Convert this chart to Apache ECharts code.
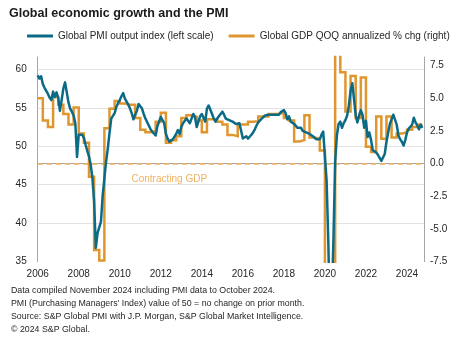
<!DOCTYPE html>
<html>
<head>
<meta charset="utf-8">
<script src="https://cdn.jsdelivr.net/npm/echarts@6/dist/echarts.min.js"></script>
<style>
  html, body { margin: 0; padding: 0; background: #ffffff; }
  #chart { width: 459px; height: 343px; }
</style>
</head>
<body>
<div id="chart"></div>
<script>
// Global PMI output index, monthly from January 2006
const pmiStartYear = 2006;
const pmiOutput = [
  59.2, 58.8, 59.1, 58.1, 57.6, 57.2, 56.8, 56.3, 56.0, 57.1, 56.4, 57.0, // 2006
  56.3, 54.6, 56.0, 57.5, 58.3, 57.0, 55.7, 54.9, 54.5, 54.0, 53.0, 48.6, // 2007
  51.5, 51.7, 51.5, 51.1, 50.2, 49.4, 48.7, 47.6, 45.9, 42.8, 36.8, 38.7, // 2008
  38.9, 40.2, 43.6, 45.8, 48.0, 49.7, 51.7, 53.6, 53.8, 54.3, 55.1, 55.6, // 2009
  56.0, 56.5, 56.9, 56.2, 55.8, 55.4, 54.9, 54.3, 53.5, 53.4, 54.6, 55.5, // 2010
  55.7, 54.9, 54.2, 53.6, 53.8, 52.7, 52.2, 51.9, 52.1, 51.4, 52.6, 53.2, // 2011
  53.8, 53.8, 53.0, 51.6, 51.0, 50.6, 50.4, 50.9, 50.9, 51.6, 52.1, 51.6, // 2012
  52.5, 53.0, 53.2, 53.6, 53.8, 53.0, 53.6, 54.2, 53.8, 52.5, 53.2, 53.9, // 2013
  54.2, 54.0, 53.2, 54.9, 55.3, 55.1, 54.2, 53.6, 53.2, 53.6, 53.8, 54.2, // 2014
  54.5, 54.1, 53.6, 53.6, 53.4, 53.2, 53.2, 53.0, 52.9, 53.1, 53.0, 52.0, // 2015
  51.0, 50.9, 51.3, 51.0, 51.1, 51.5, 51.8, 52.2, 52.7, 53.1, 53.3, 53.6, // 2016
  53.8, 54.0, 53.8, 54.1, 53.9, 54.1, 53.9, 54.1, 54.3, 54.1, 54.4, 54.6, // 2017
  54.7, 54.3, 53.5, 53.9, 53.2, 53.1, 52.9, 52.8, 52.4, 52.6, 52.4, 52.0, // 2018
  52.2, 51.8, 52.0, 51.6, 51.6, 51.3, 51.1, 50.9, 50.7, 50.9, 51.5, 51.9, // 2019
  52.1, 45.5, 37.5, 26.2, 30.0, 38.0, 48.0, 51.4, 52.9, 53.2, 52.4, 53.0, // 2020
  53.4, 54.0, 55.3, 57.2, 58.2, 56.2, 54.0, 53.1, 54.0, 54.7, 54.1, 52.4, // 2021
  53.3, 51.2, 51.8, 50.8, 49.5, 49.6, 49.2, 48.9, 48.5, 48.1, 48.0, 49.0, // 2022
  50.6, 51.8, 52.9, 53.5, 54.1, 54.3, 52.8, 51.4, 50.9, 50.6, 50.1, 50.8, // 2023
  51.8, 52.3, 52.5, 52.8, 53.7, 53.1, 52.7, 52.2, 52.8, 52.4              // 2024
];

// Global GDP, quarter-on-quarter annualized % change, from 2006 Q1
const gdpStartYear = 2006;
const gdpQoq = [
  5.0, 3.3, 2.8, 5.1,     // 2006
  4.5, 3.8, 3.0, 4.3,     // 2007
  2.3, 1.6, -1.0, -6.6,   // 2008
  -7.4, 2.7, 4.2, 4.8,    // 2009
  4.6, 4.5, 4.5, 3.5,     // 2010
  2.6, 2.4, 2.5, 3.2,     // 2011
  3.9, 1.6, 1.8, 2.1,     // 2012
  3.5, 3.7, 3.6, 3.3,     // 2013
  2.4, 3.4, 3.4, 3.2,     // 2014
  3.0, 2.2, 2.1, 3.0,     // 2015
  3.0, 3.2, 3.25, 3.6,    // 2016
  3.6, 3.8, 3.8, 3.9,     // 2017
  3.5, 3.3, 1.7, 1.8,     // 2018
  3.7, 2.0, 1.9, 1.0,     // 2019
  -13.5, -31.0, 35.0, 7.0, // 2020
  4.0, 6.7, 3.5, 6.6,     // 2021
  1.3, 0.9, 3.6, 1.9,     // 2022
  3.6, 2.0, 2.3, 2.4,     // 2023
  2.6, 2.8, 3.0           // 2024
];

// Axis ranges and reference levels
const yearRange = [2006, 2024.83];
const yearStep = 2;
const pmiRange = [35, 61.6];
const pmiStep = 5;
const pmiGridLevels = [40, 45, 50, 55, 60];
const gdpRange = [-7.5, 8.16];
const gdpStep = 2.5;
const gdpZero = 0;

const titleText = 'Global economic growth and the PMI';
const pmiName = 'Global PMI output index (left scale)';
const gdpName = 'Global GDP QOQ annualized % chg (right)';
const zeroLabel = 'Contracting GDP';
const footnotes = [
  'Data compiled November 2024 including PMI data to October 2024.',
  "PMI (Purchasing Managers' Index) value of 50 = no change on prior month.",
  'Source: S&P Global PMI with J.P. Morgan, S&P Global Market Intelligence.',
  '\u00a9 2024 S&P Global.'
];

const TEAL = '#0b6b87';
const ORANGE = '#e0962e';
const LIGHT_ORANGE = '#efb262';
const TEXT = '#262626';
const AXIS = '#a6a6a6';
const GRID = '#e2e2e2';
const FONT = '"Liberation Sans", Arial, sans-serif';

const pmiPoints = pmiOutput.map((v, i) => [pmiStartYear + i / 12, v]);
// each quarterly value is held flat across its quarter
const gdpPoints = gdpQoq.map((v, i) => [gdpStartYear + i / 4, v]);
gdpPoints.push([gdpStartYear + gdpQoq.length / 4, gdpQoq[gdpQoq.length - 1]]);

const chart = echarts.init(document.getElementById('chart'), null, { renderer: 'canvas' });

chart.setOption({
  animation: false,
  backgroundColor: '#ffffff',
  textStyle: { fontFamily: FONT },
  title: {
    text: titleText,
    left: 9,
    top: 7,
    padding: 0,
    textStyle: { fontFamily: FONT, fontSize: 12.5, fontWeight: 'bold', color: '#1a1a1a' }
  },
  legend: {
    left: 27,
    top: 31,
    padding: 0,
    itemGap: 15,
    itemWidth: 26,
    itemHeight: 3,
    icon: 'rect',
    textStyle: { fontFamily: FONT, fontSize: 10, color: TEXT },
    data: [pmiName, gdpName]
  },
  grid: { left: 37.7, right: 35, top: 57, bottom: 81.3, containLabel: false },
  xAxis: {
    type: 'value',
    min: yearRange[0],
    max: yearRange[1],
    interval: yearStep,
    axisLine: { show: true, lineStyle: { color: AXIS, width: 1 } },
    axisTick: { show: false },
    splitLine: { show: false },
    axisLabel: {
      margin: 8,
      fontFamily: FONT,
      fontSize: 10,
      color: TEXT,
      showMaxLabel: false,
      formatter: v => (Number.isInteger(v) ? String(v) : '')
    }
  },
  yAxis: [
    {
      type: 'value',
      position: 'left',
      min: pmiRange[0],
      max: pmiRange[1],
      interval: pmiStep,
      axisLine: { show: true, lineStyle: { color: AXIS, width: 1 } },
      axisTick: { show: false },
      splitLine: { show: false },
      axisLabel: {
        margin: 11,
        fontFamily: FONT,
        fontSize: 10,
        color: TEXT,
        showMaxLabel: false,
        formatter: v => (v % pmiStep === 0 ? String(v) : '')
      }
    },
    {
      type: 'value',
      position: 'right',
      min: gdpRange[0],
      max: gdpRange[1],
      interval: gdpStep,
      axisLine: { show: true, lineStyle: { color: AXIS, width: 1 } },
      axisTick: { show: false },
      splitLine: { show: false },
      axisLabel: {
        margin: 6,
        fontFamily: FONT,
        fontSize: 10,
        color: TEXT,
        showMaxLabel: false,
        formatter: v => (Math.abs(v / gdpStep - Math.round(v / gdpStep)) < 1e-9 ? v.toFixed(1) : '')
      }
    }
  ],
  series: [
    {
      name: pmiName,
      type: 'line',
      xAxisIndex: 0,
      yAxisIndex: 0,
      data: pmiPoints,
      showSymbol: false,
      symbol: 'none',
      clip: true,
      z: 4,
      color: TEAL,
      lineStyle: { color: TEAL, width: 2.5, join: 'round' },
      markLine: {
        silent: true,
        z: 1,
        symbol: 'none',
        label: { show: false },
        lineStyle: { color: GRID, width: 1, type: 'solid' },
        data: pmiGridLevels.map(v => ({ yAxis: v }))
      }
    },
    {
      name: gdpName,
      type: 'line',
      xAxisIndex: 0,
      yAxisIndex: 1,
      data: gdpPoints,
      step: 'end',
      showSymbol: false,
      symbol: 'none',
      clip: true,
      z: 3,
      color: ORANGE,
      lineStyle: { color: ORANGE, width: 2.5, join: 'miter' },
      markLine: {
        silent: true,
        z: 2,
        symbol: 'none',
        label: { show: false },
        lineStyle: { color: LIGHT_ORANGE, width: 1.5, type: [5.5, 3.5] },
        data: [{ yAxis: gdpZero }]
      }
    }
  ],
  graphic: [
    {
      type: 'text',
      left: 131.5,
      top: 174,
      silent: true,
      style: { text: zeroLabel, fill: LIGHT_ORANGE, font: '10px ' + FONT }
    },
    {
      type: 'text',
      left: 11,
      top: 284.5,
      silent: true,
      style: {
        text: footnotes.join('\n'),
        fill: TEXT,
        font: '8.8px ' + FONT,
        lineHeight: 12.9
      }
    }
  ]
});
</script>
</body>
</html>
